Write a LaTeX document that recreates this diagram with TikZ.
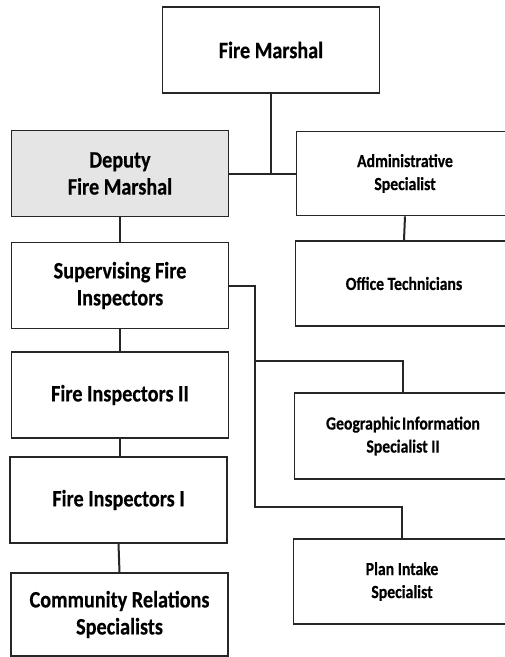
\documentclass[tikz,border=0pt]{standalone}
\usepackage{fontspec}
\setmainfont{Carlito}
% narrow, tall bold lettering for the box labels
\newfontfamily\boxfontL[FakeStretch=0.86,FakeBold=0.4]{Carlito Bold}
\newfontfamily\boxfontR[FakeStretch=0.85,FakeBold=0.4]{Carlito Bold}
\begin{document}
\begin{tikzpicture}[x=1pt,y=-1pt,
  box/.style={draw=black!85,line width=1.8pt,fill=white,inner sep=0pt,
    minimum width=217pt,minimum height=86pt,align=center,
    font=\boxfontL\fontsize{23.5}{27}\selectfont},
  rbox/.style={box,font=\boxfontR\fontsize{18.5}{23}\selectfont},
  shaded/.style={fill=black!10},
  link/.style={draw=black!85,line width=2pt}]
\useasboundingbox (0,0) rectangle (505,657);
\clip (0,0) rectangle (505,657);
\fill[white] (0,0) rectangle (505,657);

% left column
\node[box] (fm) at (271,50) {Fire Marshal};
\node[box,shaded] (dep) at (120,173.5) {Deputy\\Fire Marshal};
\node[box] (sup) at (120,285.5) {Supervising Fire\\Inspectors};
\node[box] (fi2) at (120,395) {Fire Inspectors II};
\node[box] (fi1) at (118.5,500) {Fire Inspectors I};
\node[box,minimum height=83pt] (com) at (119.5,614.5) {Community Relations\\Specialists};

% right column
\node[rbox,minimum height=84pt] (adm) at (405,173.5) {Administrative\\Specialist};
\node[rbox,minimum height=85pt] (off) at (404,283.5) {Office Technicians};
\node[rbox] (geo) at (403,436) {Geographic\hspace{0.1em}Information\\Specialist II};
\node[rbox,minimum height=85pt] (plan) at (402,581.5) {Plan Intake\\Specialist};

% connectors
\coordinate (b1) at (255,361);
\coordinate (b2) at (255,507);
\path[link] (dep.east) -- (adm.west);
\path[link] (fm.south) -- (fm.south |- dep.east);
\path[link] (dep.south) -- (sup.north);
\path[link] (sup.south) -- (fi2.north);
\path[link] (fi2.south) -- (fi2.south |- fi1.north);
\path[link] (fi1.south) -- (com.north);
\path[link] (adm.south) -- (off.north);
\path[link] (sup.east) -| (b2) -| (plan.north);
\path[link] (b1) -| (geo.north);
\end{tikzpicture}
\end{document}
